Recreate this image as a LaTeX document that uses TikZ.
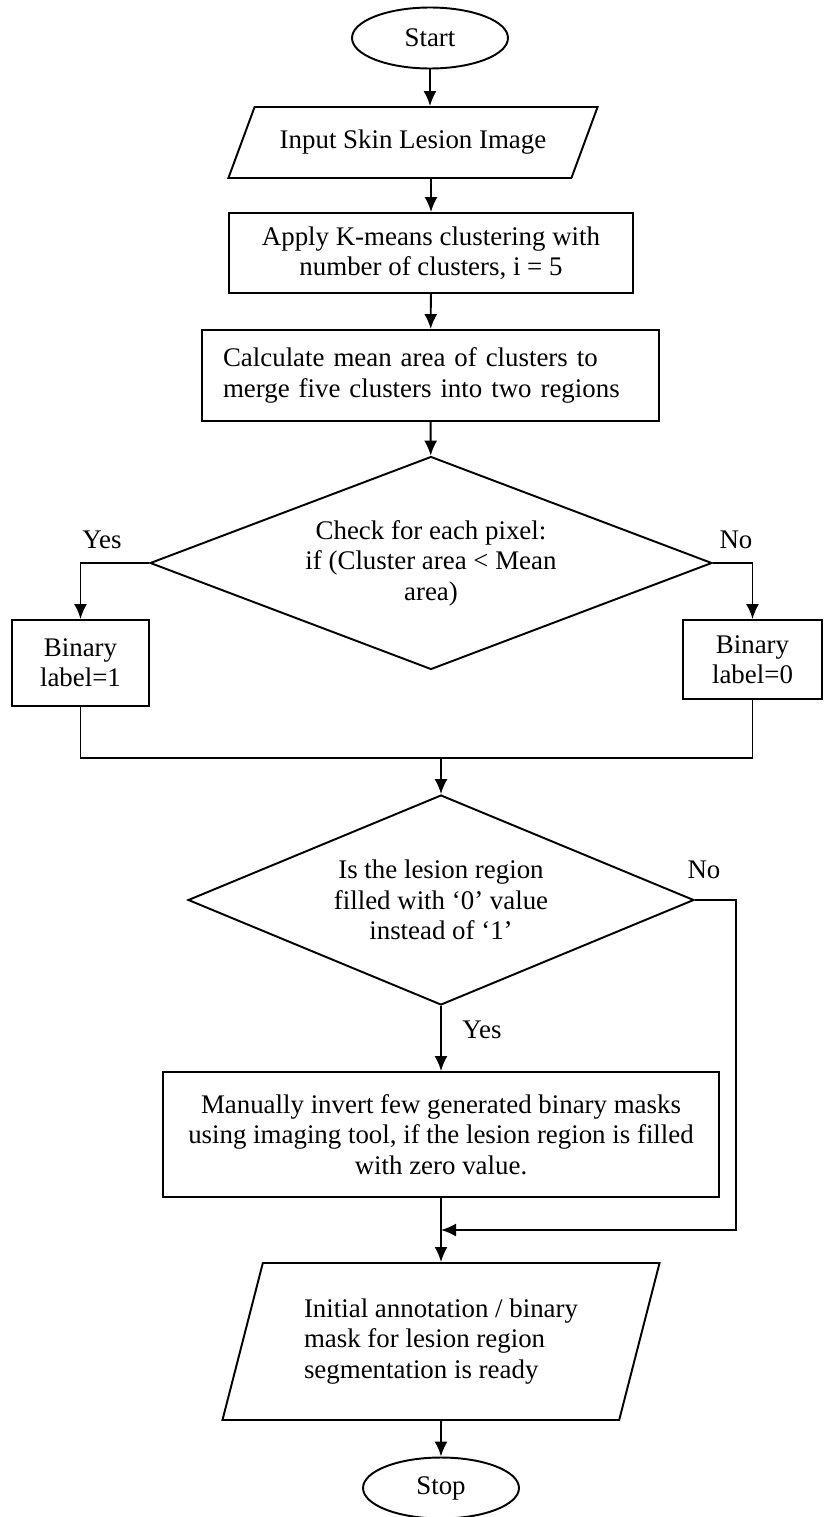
\documentclass[tikz,border=0pt]{standalone}
\usepackage{fontspec}
\setmainfont{Liberation Serif}
\usetikzlibrary{shapes.geometric,arrows.meta}

\tikzset{
  terminal/.style={draw,ellipse,inner sep=0pt,minimum width=3.12cm,minimum height=1.22cm},
  process/.style={draw,rectangle,align=center,inner sep=0pt},
  decision/.style={draw,diamond,align=center,inner sep=0pt},
  io/.style={draw,trapezium,trapezium stretches=true,inner sep=0pt}
}

\begin{document}
\begin{tikzpicture}[x=0.02cm,y=-0.02cm,>={Latex[length=0.3cm,width=0.26cm]},
    line width=1.1pt,font=\fontsize{15.3}{17.3}\selectfont]
\useasboundingbox (0,0) rectangle (824,1517);

\node[terminal] (start) at (430,38) {Start};
\node[io,trapezium left angle=48,trapezium right angle=132,
      minimum width=7.4cm,minimum height=1.42cm] (input) at (413,142.5) {Input Skin Lesion Image};
\node[process,minimum width=8.08cm,minimum height=1.6cm] (kmeans) at (431,253)
    {Apply K-means clustering with\\number of clusters, i = 5};
\node[process,align=left,text width=8.3cm,inner xsep=0.42cm,minimum height=1.82cm] (mean) at (430.5,375.5)
    {Calculate mean area of clusters to\\merge five clusters into two regions};

% first decision
\node[decision,aspect=2.64,minimum width=11.24cm,minimum height=4.26cm] (check) at (431,563)
    {Check for each pixel:\\if (Cluster area < Mean\\area)};
\node (yes1) at (102,540) {Yes};
\node (no1) at (736,540) {No};
\node[process,minimum width=2.74cm,minimum height=1.72cm] (bin1) at (80.5,663) {Binary\\label=1};
\node[process,minimum width=2.78cm,minimum height=1.58cm] (bin0) at (752.5,659.5) {Binary\\label=0};
\coordinate (join) at (441,758);

% second decision
\node[decision,aspect=2.41,minimum width=10.12cm,minimum height=4.2cm] (lesion) at (441,900)
    {Is the lesion region\\filled with ‘0’ value\\instead of ‘1’};
\node (no2) at (704,870) {No};
\node (yes2) at (482,1030) {Yes};
\node[process,minimum width=11.12cm,minimum height=2.5cm] (invert) at (441,1134.5)
    {Manually invert few generated binary masks\\using imaging tool, if the lesion region is filled\\with zero value.};
\coordinate (back) at (736,1230);
\node[io,align=left,trapezium left angle=70,trapezium right angle=110,
      minimum width=8.76cm,minimum height=3.14cm] (mask) at (441,1341.5)
    {Initial annotation / binary\\mask for lesion region\\segmentation is ready};
\node[terminal] (stop) at (441,1488) {Stop};

\draw[->] (start.south) -- (start.south |- input.north);
\draw[->] (kmeans.north |- input.south) -- (kmeans.north);
\draw[->] (kmeans) -- (mean);
\draw[->] (mean) -- (check);
\draw[->] (check.west) -| (bin1.north);
\draw[->] (check.east) -| (bin0.north);
\draw (bin1.south) |- (join) -| (bin0.south);
\draw[->] (join) -- (lesion.north);
\draw[->] (lesion) -- (invert);
\draw[->] (lesion.east) -| (back) -- (back -| invert.south);
\draw[->] (invert) -- (mask);
\draw[->] (mask) -- (stop);

\end{tikzpicture}
\end{document}
